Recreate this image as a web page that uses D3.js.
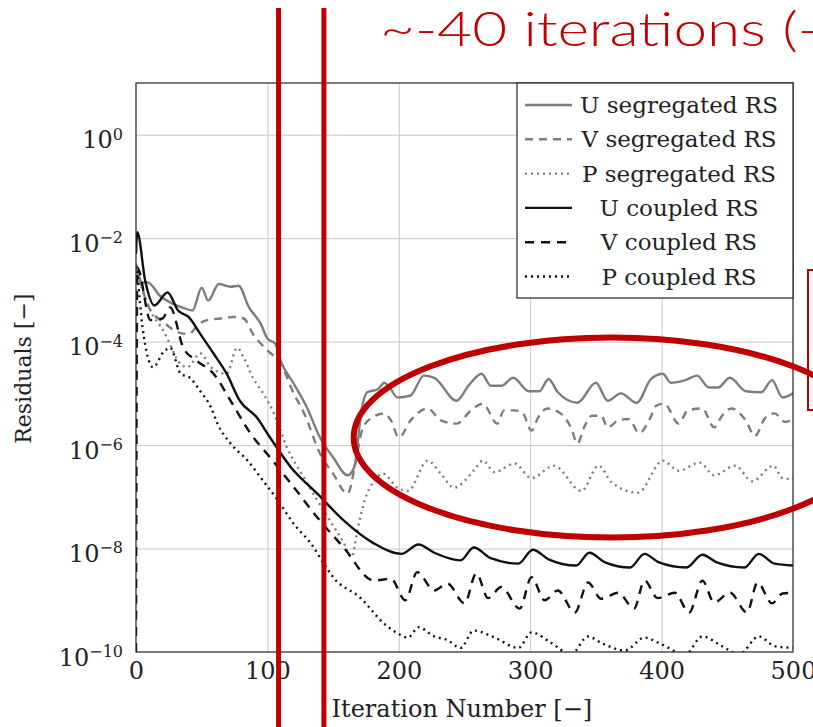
<!DOCTYPE html>
<html>
<head>
<meta charset="utf-8">
<script src="https://cdn.jsdelivr.net/npm/d3@7"></script>
<style>
  html, body { margin: 0; padding: 0; background: #fff; }
  svg { display: block; }
</style>
</head>
<body>
<svg id="chart" width="813" height="727"></svg>
<script>
// residual histories, [iteration, residual]
const uSegregated = [
  [0, 3e-3], [5, 1.4e-3], [9, 1.4e-3], [18, 7.8e-4], [28, 5.4e-4], [36, 4.5e-4], [43, 4.0e-4],
  [50, 1.1e-3], [55, 6.2e-4], [63, 1.3e-3], [72, 1.15e-3], [78, 1.2e-3], [86, 4.6e-4],
  [95, 2.2e-4], [100, 1.15e-4], [106, 9.1e-5], [110, 4.3e-5], [120, 1.55e-5], [130, 5.4e-6],
  [140, 1.4e-6], [150, 5.8e-7], [161, 2.6e-7], [166, 3.7e-7], [172, 5.4e-6], [176, 1.05e-5],
  [184, 1.2e-5], [189, 1.6e-5], [193, 1.3e-5], [199, 8.3e-6], [209, 9.1e-6], [219, 2.2e-5],
  [227, 2.0e-5], [244, 7.2e-6], [253, 1.4e-5], [263, 2.4e-5], [270, 1.4e-5], [278, 1.4e-5],
  [287, 2.0e-5], [299, 1.1e-5], [307, 1.1e-5], [314, 1.9e-5], [321, 1.05e-5], [336, 6.6e-6],
  [350, 1.6e-5], [359, 7.2e-6], [369, 1.0e-5], [381, 6.6e-6], [392, 1.9e-5], [401, 2.4e-5],
  [407, 1.6e-5], [418, 1.8e-5], [427, 2.2e-5], [436, 1.3e-5], [443, 1.3e-5], [452, 2.0e-5],
  [464, 1.1e-5], [476, 1.05e-5], [484, 1.8e-5], [492, 8.3e-6], [500, 1.0e-5]
];
const vSegregated = [
  [0, 3.2e-3], [5, 1e-3], [11, 4.0e-4], [20, 2.5e-4], [30, 1.6e-4], [40, 1.4e-4], [48, 2.2e-4],
  [54, 2.6e-4], [64, 2.8e-4], [74, 3.0e-4], [82, 2.8e-4], [89, 1.4e-4], [100, 6.8e-5],
  [110, 3.8e-5], [120, 1e-5], [128, 4.1e-6], [140, 6.9e-7], [150, 2.8e-7], [161, 1.15e-7],
  [167, 4.4e-7], [172, 1.9e-6], [178, 3.2e-6], [189, 4.1e-6], [194, 3.0e-6], [200, 1.4e-6],
  [209, 3.0e-6], [222, 5.1e-6], [232, 3.0e-6], [244, 2.6e-6], [255, 4.7e-6], [264, 6.3e-6],
  [275, 2.6e-6], [280, 4.7e-6], [288, 4.7e-6], [294, 4.3e-6], [301, 1.9e-6], [306, 3.4e-6],
  [313, 5.1e-6], [323, 4.1e-6], [331, 2.2e-6], [336, 1.07e-6], [341, 2.2e-6], [347, 3.7e-6],
  [354, 3.7e-6], [359, 2.2e-6], [367, 3.0e-6], [375, 3.2e-6], [383, 1.7e-6], [391, 3.2e-6],
  [396, 5.8e-6], [402, 6.3e-6], [413, 2.6e-6], [420, 4.7e-6], [431, 5.1e-6], [440, 2.2e-6],
  [446, 3.7e-6], [453, 5.1e-6], [464, 3.0e-6], [471, 1.5e-6], [479, 3.4e-6], [486, 4.1e-6],
  [494, 2.8e-6], [500, 3.2e-6]
];
const pSegregated = [
  [0, 2.5e-3], [5, 1e-3], [11, 4.0e-4], [21, 1.6e-4], [34, 3.7e-5], [39, 3.2e-5], [49, 5.9e-5],
  [57, 3.2e-5], [69, 2.4e-5], [77, 7.6e-5], [82, 4.9e-5], [89, 2.0e-5], [97, 9.8e-6],
  [105, 4.1e-6], [115, 8.9e-7], [128, 2.3e-7], [146, 4.0e-8], [158, 1.3e-8], [164, 6.8e-9],
  [169, 2.6e-8], [174, 8.5e-8], [181, 2.0e-7], [188, 2.8e-7], [199, 1.5e-7], [207, 1.3e-7],
  [222, 5.0e-7], [232, 2.8e-7], [242, 1.5e-7], [257, 3.2e-7], [264, 5.0e-7], [273, 3.0e-7],
  [288, 4.4e-7], [301, 2.3e-7], [318, 4.0e-7], [339, 1.3e-7], [352, 4.0e-7], [362, 1.9e-7],
  [382, 1.2e-7], [401, 5.0e-7], [413, 3.2e-7], [429, 4.6e-7], [440, 2.6e-7], [456, 4.0e-7],
  [469, 2.0e-7], [485, 4.0e-7], [492, 2.3e-7], [500, 2.2e-7]
];
const uCoupled = [
  [0, 5e-3], [1, 1.3e-2], [7, 1.5e-3], [14, 5e-4], [24, 8.9e-4], [32, 4.0e-4], [40, 3.0e-4],
  [49, 1.4e-4], [59, 5.9e-5], [69, 2.4e-5], [79, 7.2e-6], [92, 3.4e-6], [102, 1.4e-6],
  [118, 3.7e-7], [138, 1.15e-7], [158, 3.5e-8], [181, 1.26e-8], [202, 7.9e-9], [215, 1.2e-8],
  [227, 8.3e-9], [247, 5.9e-9], [257, 1.05e-8], [270, 6.5e-9], [291, 5.1e-9], [302, 9.5e-9],
  [314, 6.2e-9], [335, 4.7e-9], [345, 8.3e-9], [357, 5.4e-9], [376, 4.3e-9], [387, 7.9e-9],
  [398, 5.4e-9], [419, 4.3e-9], [431, 7.6e-9], [442, 5.4e-9], [463, 4.3e-9], [474, 7.9e-9],
  [486, 5.1e-9], [500, 4.7e-9]
];
const vCoupled = [
  [0, 1e-10], [1, 2.7e-3], [11, 2.6e-4], [20, 2.8e-4], [26, 4.6e-4], [36, 7.6e-5], [46, 4.3e-5],
  [59, 2.4e-5], [72, 7.2e-6], [87, 1.7e-6], [102, 5.8e-7], [118, 1.8e-7], [138, 4.0e-8],
  [158, 1.05e-8], [181, 2.4e-9], [194, 2.6e-9], [205, 1.0e-9], [214, 3.5e-9], [227, 1.55e-9],
  [237, 2.1e-9], [250, 8.7e-10], [259, 3.3e-9], [268, 1.1e-9], [278, 1.8e-9], [292, 6.9e-10],
  [301, 2.8e-9], [311, 1.0e-9], [321, 1.55e-9], [334, 5.8e-10], [344, 2.2e-9], [354, 1.07e-9],
  [367, 1.4e-9], [379, 6.9e-10], [387, 2.4e-9], [397, 1.1e-9], [410, 1.4e-9], [421, 5.8e-10],
  [431, 2.4e-9], [440, 9.1e-10], [452, 1.4e-9], [465, 5.8e-10], [473, 2.2e-9], [484, 8.7e-10],
  [492, 1.35e-9], [500, 1.4e-9]
];
const pCoupled = [
  [1, 2.3e-3], [5, 1.9e-4], [13, 3.2e-5], [21, 6.3e-5], [26, 7.6e-5], [34, 2.4e-5], [41, 2.0e-5],
  [49, 1.1e-5], [57, 5.4e-6], [62, 2.6e-6], [72, 1.07e-6], [85, 5.0e-7], [97, 2.0e-7],
  [108, 8.5e-8], [120, 3.0e-8], [133, 1.26e-8], [143, 5.1e-9], [150, 2.8e-9], [171, 1.1e-9],
  [189, 3.5e-10], [199, 2.3e-10], [207, 1.9e-10], [215, 3.0e-10], [227, 2.0e-10], [237, 1.7e-10],
  [247, 1.2e-10], [257, 2.6e-10], [273, 1.9e-10], [291, 1.2e-10], [301, 2.4e-10], [316, 1.5e-10],
  [331, 9e-11], [344, 2.0e-10], [354, 1.5e-10], [372, 1.07e-10], [387, 1.9e-10], [399, 1.45e-10],
  [418, 9e-11], [431, 2.0e-10], [446, 1.3e-10], [459, 9e-11], [474, 2.0e-10], [486, 1.3e-10],
  [500, 1.2e-10]
];

const seriesNames = ['U segregated RS', 'V segregated RS', 'P segregated RS', 'U coupled RS', 'V coupled RS', 'P coupled RS'];
const xTicks = [0, 100, 200, 300, 400, 500];
const yTickExponents = [0, -2, -4, -6, -8, -10];

const margin = { top: 83, right: 20, bottom: 75, left: 136 };
const width = 813 - margin.left - margin.right;
const height = 727 - margin.top - margin.bottom;
const serif = "'DejaVu Serif', serif";
const red = '#c00000';

const series = [
  { name: seriesNames[0], data: uSegregated, color: '#7d7d7d', dash: null },
  { name: seriesNames[1], data: vSegregated, color: '#7d7d7d', dash: '8,6' },
  { name: seriesNames[2], data: pSegregated, color: '#7d7d7d', dash: '2,4' },
  { name: seriesNames[3], data: uCoupled, color: '#111', dash: null },
  { name: seriesNames[4], data: vCoupled, color: '#111', dash: '9,7' },
  { name: seriesNames[5], data: pCoupled, color: '#111', dash: '2,4' }
];

const svg = d3.select('#chart');
svg.append('rect').attr('width', 813).attr('height', 727).attr('fill', '#fff');

const chart = svg.append('g')
  .attr('transform', `translate(${margin.left}, ${margin.top})`);

const xScale = d3.scaleLinear().domain([0, 500]).range([0, width]);
const yScale = d3.scaleLog().domain([1e-10, 1e1]).range([height, 0]);

// grid
chart.append('g')
  .call(d3.axisBottom(xScale).tickValues(xTicks.slice(1, -1)).tickSize(height).tickFormat(''))
  .call((g) => g.select('.domain').remove())
  .selectAll('line')
  .attr('stroke', '#c8c8c8');

chart.append('g')
  .call(d3.axisLeft(yScale).tickValues(yTickExponents.slice(0, -1).map((e) => Math.pow(10, e))).tickSize(-width).tickFormat(''))
  .call((g) => g.select('.domain').remove())
  .selectAll('line')
  .attr('stroke', '#c8c8c8');

// axes labels
const xAxis = chart.append('g')
  .attr('transform', `translate(0, ${height})`)
  .call(d3.axisBottom(xScale).tickValues(xTicks).tickSize(0).tickPadding(10));
xAxis.select('.domain').remove();
xAxis.selectAll('text')
  .attr('dy', '0.71em')
  .style('font-family', serif)
  .style('font-size', '24px')
  .style('fill', '#222');

const yAxis = chart.append('g')
  .call(d3.axisLeft(yScale).tickValues(yTickExponents.map((e) => Math.pow(10, e))).tickSize(0).tickPadding(13));
yAxis.select('.domain').remove();
yAxis.selectAll('text')
  .style('font-family', serif)
  .style('font-size', '24px')
  .style('fill', '#222')
  .attr('dy', '0.55em')
  .each(function (d) {
    const t = d3.select(this);
    const exp = Math.round(Math.log10(d));
    t.text(null);
    t.append('tspan').text('10');
    t.append('tspan')
      .attr('dy', '-0.55em')
      .style('font-size', '16px')
      .text(exp < 0 ? '\u2212' + (-exp) : exp);
  });

// lines
svg.append('defs').append('clipPath').attr('id', 'plot')
  .append('rect').attr('width', width).attr('height', height);

const line = d3.line()
  .x((d) => xScale(d[0]))
  .y((d) => yScale(d[1]))
  .curve(d3.curveMonotoneX);

chart.append('g')
  .attr('clip-path', 'url(#plot)')
  .selectAll('path')
  .data(series)
  .enter()
  .append('path')
  .attr('d', (s) => line(s.data))
  .attr('fill', 'none')
  .attr('stroke', (s) => s.color)
  .attr('stroke-width', 2.4)
  .attr('stroke-dasharray', (s) => s.dash)
  .attr('stroke-linejoin', 'round');

chart.append('rect')
  .attr('width', width)
  .attr('height', height)
  .attr('fill', 'none')
  .attr('stroke', '#222')
  .attr('stroke-width', 1.2);

// legend
const legend = chart.append('g')
  .attr('transform', `translate(${width - 276}, 0)`);
legend.append('rect')
  .attr('width', 276)
  .attr('height', 215)
  .attr('fill', '#fff')
  .attr('stroke', '#222')
  .attr('stroke-width', 1.2);

const rows = legend.selectAll('g.row')
  .data(series)
  .enter()
  .append('g')
  .attr('transform', (s, i) => `translate(0, ${22 + i * 34.3})`);
rows.append('line')
  .attr('x1', 8).attr('x2', 55)
  .attr('stroke', (s) => s.color)
  .attr('stroke-width', 2.4)
  .attr('stroke-dasharray', (s) => s.dash);
rows.append('text')
  .attr('x', 162)
  .attr('dy', '0.35em')
  .attr('text-anchor', 'middle')
  .style('font-family', serif)
  .style('font-size', '23px')
  .style('fill', '#222')
  .text((s) => s.name);

// axis titles
svg.append('text')
  .attr('x', margin.left + xScale(248))
  .attr('y', 717)
  .attr('text-anchor', 'middle')
  .style('font-family', serif)
  .style('font-size', '24px')
  .style('fill', '#222')
  .text('Iteration Number [\u2212]');

svg.append('text')
  .attr('transform', `translate(31, ${margin.top + yScale(3e-5)}) rotate(-90)`)
  .attr('text-anchor', 'middle')
  .style('font-family', serif)
  .style('font-size', '22px')
  .style('fill', '#222')
  .text('Residuals [\u2212]');

// red annotations
const marks = [108.5, 143];
svg.selectAll('line.mark')
  .data(marks)
  .enter()
  .append('line')
  .attr('x1', (d) => margin.left + xScale(d))
  .attr('x2', (d) => margin.left + xScale(d))
  .attr('y1', 8)
  .attr('y2', 727)
  .attr('stroke', red)
  .attr('stroke-width', 5);

svg.append('text')
  .attr('x', 380)
  .attr('y', 46)
  .attr('textLength', 440)
  .attr('lengthAdjust', 'spacingAndGlyphs')
  .style('font-family', "Lato, 'Open Sans', sans-serif")
  .style('font-weight', 300)
  .style('font-size', '48px')
  .style('fill', red)
  .text('~-40 iterations (-');

svg.append('ellipse')
  .attr('cx', margin.left + xScale(362))
  .attr('cy', margin.top + yScale(1.4e-6))
  .attr('rx', 258)
  .attr('ry', 100)
  .attr('fill', 'none')
  .attr('stroke', red)
  .attr('stroke-width', 6);

svg.append('rect')
  .attr('x', 808)
  .attr('y', 270)
  .attr('width', 100)
  .attr('height', 140)
  .attr('fill', 'none')
  .attr('stroke', red)
  .attr('stroke-width', 2);
</script>
</body>
</html>
